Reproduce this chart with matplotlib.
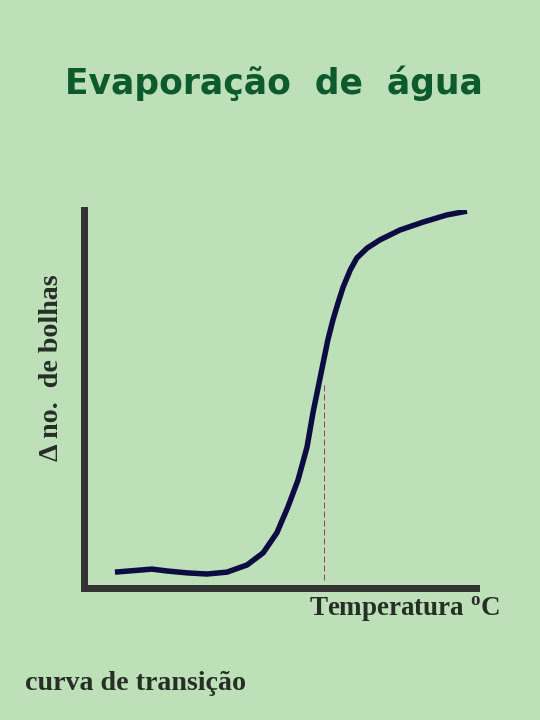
import matplotlib
matplotlib.use("Agg")
import matplotlib.pyplot as plt

# Data (arbitrary units)
temperatura = [7.9, 17.3, 21.2, 26.3, 31.4, 36.5, 41.6, 45.7, 49.2, 52.0, 54.6,
               56.9, 58.4, 59.7, 61.0, 62.2, 63.5, 64.8, 66.1, 67.9, 69.6, 72.2,
               75.5, 80.6, 86.5, 92.6, 97.7]
bolhas = [4.2, 5.0, 4.5, 4.0, 3.7, 4.2, 6.1, 9.3, 14.6, 21.4, 28.6,
          37.3, 46.3, 52.9, 59.5, 65.6, 70.9, 75.4, 79.6, 84.1, 87.3, 89.9,
          92.1, 94.7, 96.8, 98.7, 99.7]
transicao_x = 61.2
transicao_y = (2.1, 54.2)

titulo = "Evaporação  de  água"
rotulo_y = "Δ no.  de bolhas"
rotulo_x = r"Temperatura $^{\mathbf{o}}$C"
legenda = "curva de transição"

plt.rcParams['mathtext.fontset'] = 'custom'
plt.rcParams['mathtext.bf'] = 'Liberation Serif:bold'
plt.rcParams['mathtext.rm'] = 'Liberation Serif:bold'

fig = plt.figure(figsize=(7.5, 10), dpi=72)
fig.patch.set_facecolor('#bde0b9')

ax = fig.add_axes([84/540, 1 - 588/720, (476-84)/540, (588-210)/720])
ax.set_facecolor('none')
ax.set_xlim(0, 100)
ax.set_ylim(0, 100)
for s in ['top', 'right']:
    ax.spines[s].set_visible(False)
for s in ['left', 'bottom']:
    ax.spines[s].set_linewidth(7)
    ax.spines[s].set_color('#333333')
    ax.spines[s].set_capstyle('projecting')
ax.set_xticks([])
ax.set_yticks([])

ax.plot(temperatura, bolhas, color='#0c0c42', lw=5.5, solid_joinstyle='round',
        solid_capstyle='butt', antialiased=True)
ax.plot([transicao_x, transicao_x], transicao_y, color='#a03a6a', lw=1,
        linestyle=(0, (6, 3)))

fig.text(274/540, 1 - 83/720, titulo, ha='center', va='center', fontsize=34.5,
         fontweight='bold', color='#0d5a2c', family='DejaVu Sans')
fig.text(52/540, 1 - 368/720, rotulo_y, ha='center', va='center', rotation=90,
         fontsize=28, fontweight='bold', color='#262e26', family='Liberation Serif')
fig.text(405/540, 1 - 609/720, rotulo_x, ha='center', va='center', fontsize=27,
         fontweight='bold', color='#262e26', family='Liberation Serif')
fig.text(25/540, 1 - 683/720, legenda, ha='left', va='center', fontsize=28,
         fontweight='bold', color='#262e26', family='Liberation Serif')

fig.savefig('out.png', dpi=72, facecolor=fig.get_facecolor())
